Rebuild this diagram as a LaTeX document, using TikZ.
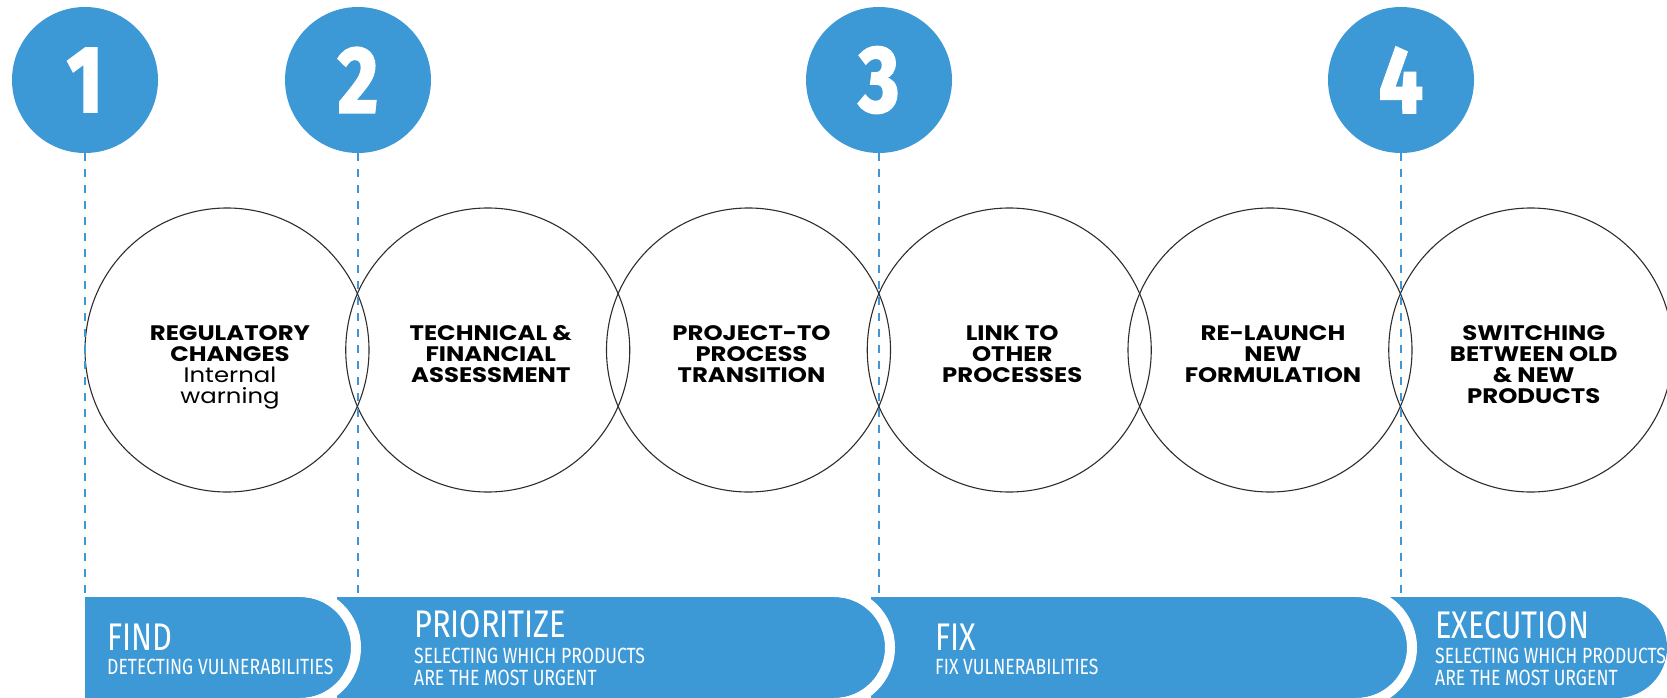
\documentclass[tikz,border=0pt]{standalone}
\usepackage{fontspec}
\setmainfont[FakeStretch=1.16]{Poppins}
\newfontfamily\barfont[FakeStretch=0.8]{Fira Sans}
\newfontfamily\numfont[FakeStretch=0.82,FakeBold=2.5]{Fira Sans}

\definecolor{stepblue}{RGB}{61,153,214}
\definecolor{ringgray}{RGB}{45,45,45}

\tikzset{
	numdot/.style={circle, fill=stepblue, minimum size=146pt, inner sep=0pt, text=white,
		font=\numfont\bfseries\fontsize{94}{94}\selectfont},
	stage/.style={circle, draw=ringgray, line width=1.1pt, minimum size=284pt, inner sep=0pt},
	stagetext/.style={anchor=north, align=center, inner sep=0pt,
		font=\fontsize{21}{21}\selectfont\bfseries},
	guide/.style={draw=stepblue, line width=2.5pt, dash pattern=on 8pt off 8pt},
	bartitle/.style={anchor=base west, inner sep=0pt, text=white,
		font=\barfont\fontsize{38.5}{38.5}\selectfont},
	barsub/.style={anchor=north west, inner sep=0pt, text=white, align=left,
		font=\barfont\fontsize{22}{22}\selectfont},
	barring/.style={draw=white, line width=10pt}
}

\begin{document}
\begin{tikzpicture}[x=1pt,y=-1pt]
		\useasboundingbox (0,0) rectangle (1667,698);
		\coordinate (bartop) at (0,597);
        % bottom bar, drawn right to left
		\fill[stepblue] (1390,597) -- (1616.5,597) arc(-90:90:50.5) -- (1390,698) -- cycle;
		\fill[stepblue] (871,597) -- (1356.5,597) arc(-90:90:50.5) -- (871,698) -- cycle;
		\draw[barring] (1356.5,592) arc(-90:90:55.5);
		\fill[stepblue] (337,597) -- (834.5,597) arc(-90:90:50.5) -- (337,698) -- cycle;
		\draw[barring] (834.5,592) arc(-90:90:55.5);
		\fill[stepblue] (85,597) -- (300.5,597) arc(-90:90:50.5) -- (85,698) -- cycle;
		\draw[barring] (300.5,592) arc(-90:90:55.5);
        % bar labels
		\node[bartitle] (find) at (107,650) {FIND};
		\node[barsub] (findsub) at (107,659) {DETECTING VULNERABILITIES};
		\node[bartitle] (prio) at (414,637) {PRIORITIZE};
		\node[barsub] (priosub) at (414,648) {SELECTING WHICH PRODUCTS\\ARE THE MOST URGENT};
		\node[bartitle] (fix) at (935,650) {FIX};
		\node[barsub] (fixsub) at (935,659) {FIX VULNERABILITIES};
		\node[bartitle] (exec) at (1435,638) {EXECUTION};
		\node[barsub] (execsub) at (1435,648) {SELECTING WHICH PRODUCTS\\ARE THE MOST URGENT};
        % stage circles
		\foreach \i/\txt in {1/{REGULATORY\\CHANGES\\{\mdseries Internal}\\{\mdseries warning}},
				2/{TECHNICAL \&\\FINANCIAL\\ASSESSMENT},
				3/{PROJECT-TO\\PROCESS\\TRANSITION},
				4/{LINK TO\\OTHER\\PROCESSES},
				5/{RE-LAUNCH\\NEW\\FORMULATION},
				6/{SWITCHING\\BETWEEN OLD\\\& NEW\\PRODUCTS}} {
			\node[stage] (c\i) at ({227+260.75*(\i-1)},350) {};
			\node[stagetext] (t\i) at ({230+260.75*(\i-1)},325) {\txt};
		}
        % numbered steps
		\foreach \i/\x in {1/85,2/358,3/879,4/1401} {
			\node[numdot] (n\i) at (\x,80) {\i};
			\draw[guide] (n\i.south) -- (n\i.south |- bartop);
		}
\end{tikzpicture}
\end{document}
